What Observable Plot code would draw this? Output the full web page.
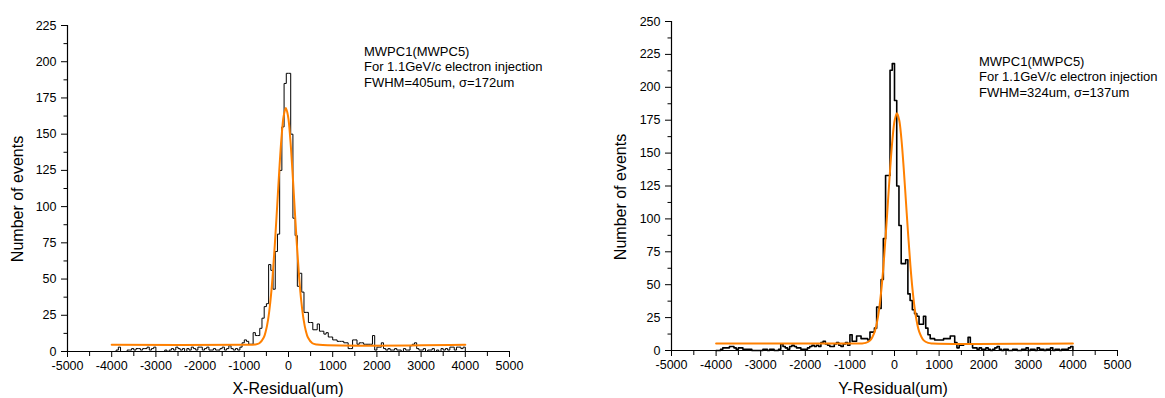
<!DOCTYPE html>
<html><head><meta charset="utf-8">
<script src="https://cdn.jsdelivr.net/npm/d3@7"></script>
<script src="https://cdn.jsdelivr.net/npm/@observablehq/plot@0.6"></script>
<style>
body{margin:0;background:#fff;font-family:"Liberation Sans",Arial,sans-serif;}
#wrap{position:relative;width:1165px;height:398px;overflow:hidden;background:#fff;}
.panel{position:absolute;top:0;}
.note{position:absolute;font-size:13px;line-height:15.3px;color:#000;white-space:nowrap;}
.ylab{position:absolute;font-size:16px;white-space:nowrap;transform:translate(-50%,-50%) rotate(-90deg);}
.xlab{position:absolute;font-size:16px;line-height:16px;white-space:nowrap;transform:translateX(-50%);}
</style></head>
<body>
<div id="wrap">
  <div class="panel" id="left" style="left:0"></div>
  <div class="panel" id="right" style="left:580px"></div>
  <div class="ylab" style="left:18px;top:199px">Number of events</div>
  <div class="ylab" style="left:621px;top:197px">Number of events</div>
  <div class="xlab" style="left:288px;top:381px">X-Residual(um)</div>
  <div class="xlab" style="left:893px;top:381px">Y-Residual(um)</div>
  <div class="note" style="left:364px;top:44px">MWPC1(MWPC5)<br>For 1.1GeV/c electron injection<br>FWHM=405um, σ=172um</div>
  <div class="note" style="left:979px;top:54px">MWPC1(MWPC5)<br>For 1.1GeV/c electron injection<br>FWHM=324um, σ=137um</div>
</div>
<script>
// ---- data ----
const binStart = -4000;
const binWidth = 50;

// X-residual histogram counts, bins from -4000 in steps of 50
const xCounts = [
  0,0,1,3,0,0,0,1,1,2, 1,2,2,1,2,2,3,1,2,3, 0,0,0,0,1,0,1,2,1,3, 2,1,2,0,2,1,3,2,1,3,
  3,1,2,3,1,1,2,1,1,2, 3,1,2,4,2,1,
  2,1,3,6,8,7,5,5,13,11,11,16,23,31,33,60,56,43,69,81,125,155,185,192,
  192,150,92,80,45,54,41,27,27,20,20,15,15,19,14,14,12,13,10,10,8,8,7,7,7,6,6,2,2,8,8,5,6,6,5,5,5,5,11,1,3,3,6,
  2,1,2,1,1,2,1,1,0,2,1,1,4,5,6,2,1,1,2,0,1,1,2,0,1,0,2,1,2,1,3,3,1,3,3,2,3
];
// Y-residual histogram counts, bins from -4000 in steps of 50
const yCounts = [
  0,0,1,2,2,2,3,3,2,1, 2,2,1,1,1,1,0,0,0,0, 0,1,1,0,1,1,0,0,1,5, 3,2,1,3,4,3,2,2,1,1,
  1,2,3,4,3,4,3,6,7,5, 4,3,3,5,6,4,3,5,6,4,
  12,7,7,11,11,9,9,9,8,14,14,17,33,32,54,85,133,133,213,218,
  190,125,95,66,66,69,43,38,31,28, 26,20,20,26,17,12,9,9,8,8, 8,8,9,9,9,11,11,6,2,4, 4,5,5,10,5,2,2,1,2,1,
  1,2,1,0,1,2,3,1,0,1, 1,0,0,1,1,0,0,1,1,2, 0,1,1,0,2,1,1,0,1,1, 2,0,1,1,0,1,1,1,2,3
];

// Gaussian fit curves
const xFitX = [-4000,-1000,-760,-660,-560,-510,-460,-410,-360,-310,-260,-210,-160,-110,-60,-10,40,90,140,190,240,290,340,390,440,540,640,4000];
const xFitY = [4.6,4.6,4.8,5.7,9.7,14.5,22.4,34.5,51.5,73.4,98.5,124.3,146.9,162.4,168,162.4,146.9,124.3,98.5,73.4,51.5,34.5,22.4,14.5,9.7,5.7,4.8,4.6];
const yFitX = [-4000,-1000,-745,-645,-545,-445,-395,-345,-295,-245,-195,-145,-95,-45,5,55,105,155,205,255,305,355,405,455,505,555,655,755,855,4000];
const yFitY = [5.3,5.3,5.35,5.8,7.7,14.2,21,31.3,46,65.3,88.5,114,139.2,160.7,175.2,180.3,175.2,160.7,139.2,114,88.5,65.3,46,31.3,21,14.2,7.7,5.8,5.35,5.3];

// ticks
const xTicks = [-5000,-4000,-3000,-2000,-1000,0,1000,2000,3000,4000,5000];
const xMinorTicks = [-4500,-3500,-2500,-1500,-500,500,1500,2500,3500,4500];
const yTicksLeft = [0,25,50,75,100,125,150,175,200,225];
const yMinorLeft = [12.5,37.5,62.5,87.5,112.5,137.5,162.5,187.5,212.5];
const yTicksRight = [0,25,50,75,100,125,150,175,200,225,250];
const yMinorRight = [12.5,37.5,62.5,87.5,112.5,137.5,162.5,187.5,212.5,237.5];

function steps(counts){
  const pts = counts.map((c,i)=>({x: binStart + i*binWidth, y: c}));
  const end = binStart + counts.length*binWidth;
  pts.push({x: end, y: counts[counts.length-1]});
  pts.push({x: end, y: 0});
  return pts;
}
function fitPts(xs, ys){ return xs.map((x,i)=>({x, y: ys[i]})); }

function panel({width, marginLeft, marginRight, marginTop, marginBottom, yMax, yTicks, yMinor, counts, fit, histWidth}){
  return Plot.plot({
    width, height: 398, marginLeft, marginRight, marginTop, marginBottom,
    x: {domain: [-5000, 5000]},
    y: {domain: [0, yMax]},
    style: {fontFamily: '"Liberation Sans", Arial, sans-serif', fontSize: "12.5px", color: "#000", background: "transparent", overflow: "visible"},
    marks: [
      Plot.axisY({ticks: yTicks, tickSize: 6, tickPadding: 5, label: null, tickFormat: d => String(d)}),
      Plot.axisY({ticks: yMinor, tickSize: 3.5, label: null, tickFormat: () => ""}),
      Plot.axisX({ticks: xTicks, tickSize: 6, tickPadding: 4, label: null, tickFormat: d => String(d)}),
      Plot.axisX({ticks: xMinorTicks, tickSize: 5, label: null, tickFormat: () => ""}),
      Plot.ruleX([-5000], {stroke: "#000", strokeWidth: 1.2}),
      Plot.ruleY([0], {stroke: "#000", strokeWidth: 1.2}),
      Plot.line(steps(counts), {x: "x", y: "y", curve: "step-after", stroke: "#000", strokeWidth: histWidth}),
      Plot.line(fit, {x: "x", y: "y", curve: "catmull-rom", stroke: "#ff8000", strokeWidth: 2})
    ]
  });
}

document.getElementById("left").append(panel({
  width: 580, marginLeft: 67, marginRight: 71, marginTop: 25, marginBottom: 47,
  yMax: 225, yTicks: yTicksLeft, yMinor: yMinorLeft, counts: xCounts, fit: fitPts(xFitX, xFitY), histWidth: 1
}));
document.getElementById("right").append(panel({
  width: 585, marginLeft: 91, marginRight: 48, marginTop: 21, marginBottom: 48,
  yMax: 250, yTicks: yTicksRight, yMinor: yMinorRight, counts: yCounts, fit: fitPts(yFitX, yFitY), histWidth: 1.6
}));
</script>
</body></html>
